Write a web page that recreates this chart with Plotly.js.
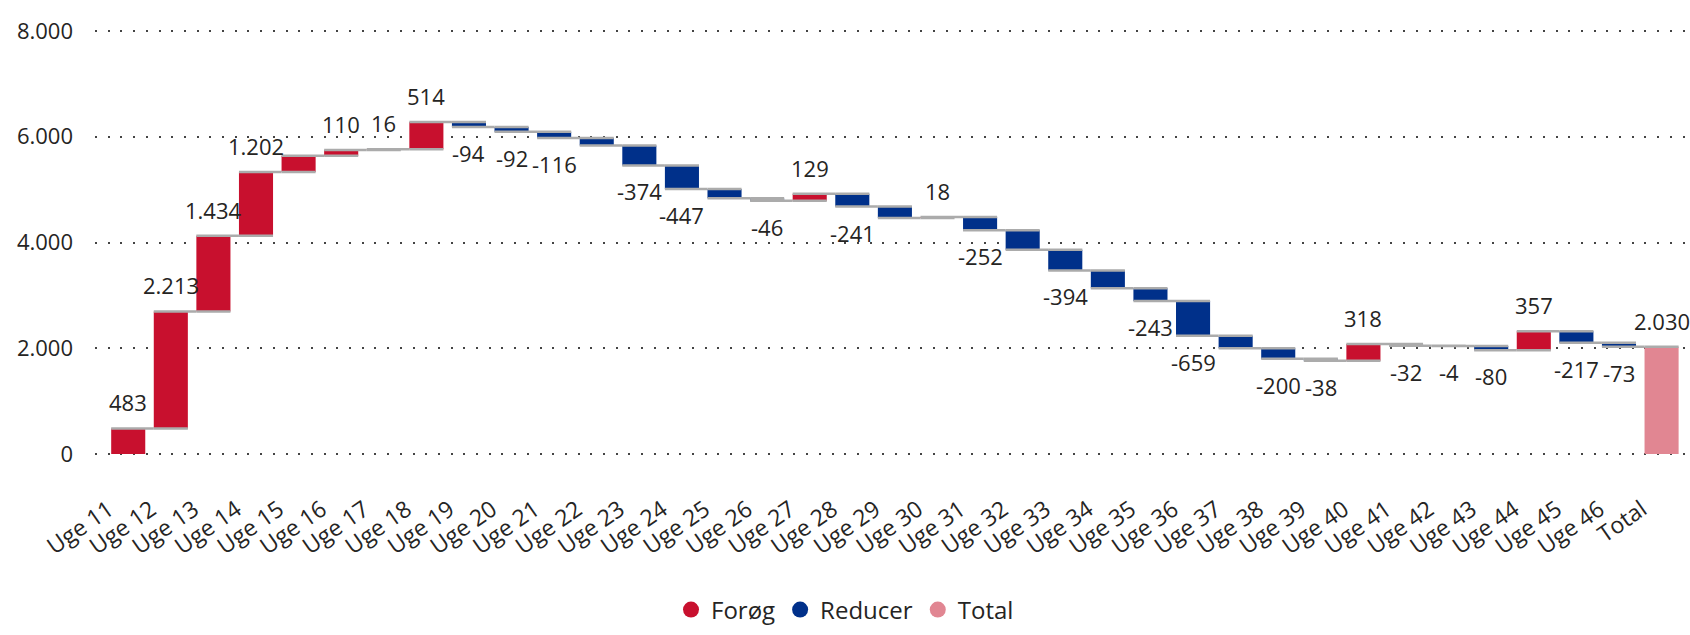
<!DOCTYPE html>
<html>
<head>
<meta charset="utf-8">
<script src="https://cdn.plot.ly/plotly-3.0.1.min.js"></script>
<style>
  html, body { margin: 0; padding: 0; background: #ffffff; }
  #chart { width: 1690px; height: 635px; }
</style>
</head>
<body>
<div id="chart"></div>
<script>
// ---- Data ----
const categories = [
  "Uge 11","Uge 12","Uge 13","Uge 14","Uge 15","Uge 16","Uge 17","Uge 18","Uge 19","Uge 20",
  "Uge 21","Uge 22","Uge 23","Uge 24","Uge 25","Uge 26","Uge 27","Uge 28","Uge 29","Uge 30",
  "Uge 31","Uge 32","Uge 33","Uge 34","Uge 35","Uge 36","Uge 37","Uge 38","Uge 39","Uge 40",
  "Uge 41","Uge 42","Uge 43","Uge 44","Uge 45","Uge 46","Total"
];
const changes = [
  483, 2213, 1434, 1202, 308, 110, 16, 514, -94, -92,
  -116, -145, -374, -447, -175, -46, 129, -241, -215, 18,
  -252, -365, -394, -335, -243, -659, -235, -200, -38, 318,
  -32, -4, -80, 357, -217, -73
];
const totalValue = 2030;
// Categories whose data labels are not shown in the reference
const hiddenLabels = ["Uge 15","Uge 22","Uge 25","Uge 29","Uge 32","Uge 34","Uge 37"];
const legendNames = ["Forøg", "Reducer", "Total"];
const yTicks = [0, 2000, 4000, 6000, 8000];

// ---- Styling ----
const RED = "#C8102E", BLUE = "#00308A", PINK = "#E18692";
const FONT = '"Segoe UI", "Open Sans", "Noto Sans", sans-serif';
const TEXT = "#252423";

function fmt(v) {
  const s = Math.abs(Math.round(v)).toString().replace(/\B(?=(\d{3})+(?!\d))/g, ".");
  return (v < 0 ? "-" : "") + s;
}

const yValues = changes.concat([totalValue]);
const measures = changes.map(() => "relative").concat(["total"]);

const waterfall = {
  type: "waterfall",
  x: categories,
  y: yValues,
  measure: measures,
  textinfo: "none",
  cliponaxis: false,
  increasing: { marker: { color: RED } },
  decreasing: { marker: { color: BLUE } },
  totals: { marker: { color: PINK } },
  connector: { mode: "spanning", line: { color: "#ABABAB", width: 2.5 } },
  showlegend: false,
  hoverinfo: "x+y"
};

// Data labels: placed at the end of each bar (above rises, below falls)
const annotations = [];
let running = 0;
categories.forEach((c, i) => {
  const isTotal = measures[i] === "total";
  const v = yValues[i];
  const end = isTotal ? running : running + v;
  if (!isTotal) running = end;
  if (hiddenLabels.includes(c)) return;
  const up = isTotal || v >= 0;
  annotations.push({
    x: c, y: end, xref: "x", yref: "y",
    text: fmt(isTotal ? end : v),
    showarrow: false,
    yanchor: up ? "bottom" : "top",
    yshift: up ? 9 : -9,
    font: { family: FONT, size: 22, color: TEXT }
  });
});

const legendColors = [RED, BLUE, PINK];
const legendTraces = legendNames.map((n, i) => ({
  type: "scatter",
  mode: "markers",
  x: [null], y: [null],
  name: n,
  marker: { color: legendColors[i], size: 20, symbol: "circle" },
  showlegend: true,
  hoverinfo: "skip"
}));

const layout = {
  width: 1690,
  height: 635,
  margin: { l: 95, r: 5, t: 30, b: 180 },
  paper_bgcolor: "#ffffff",
  plot_bgcolor: "#ffffff",
  separators: ",.",
  font: { family: FONT, color: TEXT },
  waterfallgap: 0.2,
  annotations: annotations,
  xaxis: {
    type: "category",
    range: [-0.78, 36.55],
    tickangle: -35,
    tickmode: "array",
    tickvals: categories,
    ticktext: categories.map(c => c + "\u00a0\u00a0\u00a0\u00a0"),
    tickfont: { family: FONT, size: 23, color: TEXT },
    showgrid: false,
    showline: false,
    zeroline: false,
    ticks: "",
    ticklabelstandoff: 22
  },
  yaxis: {
    range: [-20, 8020],
    tickvals: yTicks,
    ticktext: yTicks.map(fmt),
    tickfont: { family: FONT, size: 22, color: TEXT },
    showgrid: true,
    gridcolor: "#444444",
    gridwidth: 2,
    griddash: "2px,10.7px",
    zeroline: false,
    showline: false,
    ticks: "",
    ticklabelstandoff: 21
  },
  showlegend: true,
  legend: {
    orientation: "h",
    xref: "container", yref: "container",
    x: 0.5, xanchor: "center",
    y: 0.004, yanchor: "bottom",
    font: { family: FONT, size: 24, color: TEXT },
    itemwidth: 30,
    traceorder: "normal"
  }
};

Plotly.newPlot("chart", [waterfall].concat(legendTraces), layout, { displayModeBar: false, staticPlot: true });
</script>
</body>
</html>
